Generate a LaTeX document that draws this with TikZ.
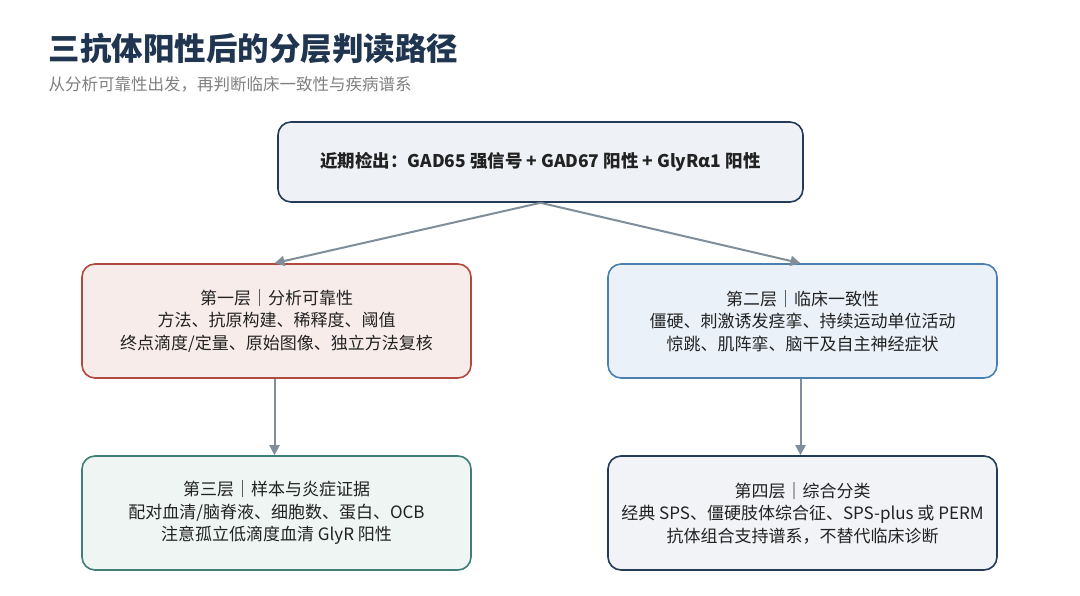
\documentclass[tikz,border=0pt]{standalone}
\usepackage{fontspec}
\setmainfont{Noto Sans CJK SC}
\usetikzlibrary{arrows.meta}
\definecolor{navy}{HTML}{1F3550}
\definecolor{gr}{HTML}{7F8E9A}
\definecolor{redb}{HTML}{B04A3E}\definecolor{redf}{HTML}{F8ECEA}
\definecolor{blub}{HTML}{4A7FAF}\definecolor{bluf}{HTML}{EAF1F8}
\definecolor{teab}{HTML}{3F7F76}\definecolor{teaf}{HTML}{EEF5F3}
\definecolor{navb}{HTML}{233A58}\definecolor{navf}{HTML}{F1F3F6}
\definecolor{topf}{HTML}{EEF2F6}
\definecolor{txt}{HTML}{222222}
\begin{document}
\begin{tikzpicture}[x=1pt,y=-1pt,
 box/.style={rounded corners=13pt,line width=1.6pt,minimum width=389pt,minimum height=114pt,align=center,font=\fontsize{17}{22.5}\selectfont,text=txt},
 arr/.style={draw=gr,line width=2pt,-{Triangle[length=10pt,width=10pt]}}]
\useasboundingbox (0,0) rectangle (1080,595);
\node[anchor=west,text=navy,font=\fontsize{31.5}{34}\selectfont\bfseries] (t) at (45,49) {三抗体阳性后的分层判读路径};
\node[anchor=west,text=gray,font=\fontsize{16.5}{18}\selectfont] (s) at (45,84) {从分析可靠性出发，再判断临床一致性与疾病谱系};
\node[box,draw=navb,fill=topf,minimum width=525pt,minimum height=80pt,font=\fontsize{17.5}{20}\selectfont\bfseries] (top) at (540.5,162) {近期检出：GAD65 强信号 + GAD67 阳性 + GlyRα1 阳性};
\node[box,draw=redb,fill=redf] (l1) at (276.5,321) {第一层｜分析可靠性\\方法、抗原构建、稀释度、阈值\\终点滴度/定量、原始图像、独立方法复核};
\node[box,draw=blub,fill=bluf] (r1) at (802.5,321) {第二层｜临床一致性\\僵硬、刺激诱发痉挛、持续运动单位活动\\惊跳、肌阵挛、脑干及自主神经症状};
\node[box,draw=teab,fill=teaf] (l2) at (276.5,513) {第三层｜样本与炎症证据\\配对血清/脑脊液、细胞数、蛋白、OCB\\注意孤立低滴度血清 GlyR 阳性};
\node[box,draw=navb,fill=navf] (r2) at (802.5,513) {第四层｜综合分类\\经典 SPS、僵硬肢体综合征、SPS-plus 或 PERM\\抗体组合支持谱系，不替代临床诊断};
\draw[arr] (top.south) -- ([xshift=-2pt]l1.north);
\draw[arr] (top.south) -- ([xshift=-2pt]r1.north);
\draw[arr] ([xshift=-2pt]l1.south) -- ([xshift=-2pt]l2.north);
\draw[arr] ([xshift=-2pt]r1.south) -- ([xshift=-2pt]r2.north);
\end{tikzpicture}
\end{document}
